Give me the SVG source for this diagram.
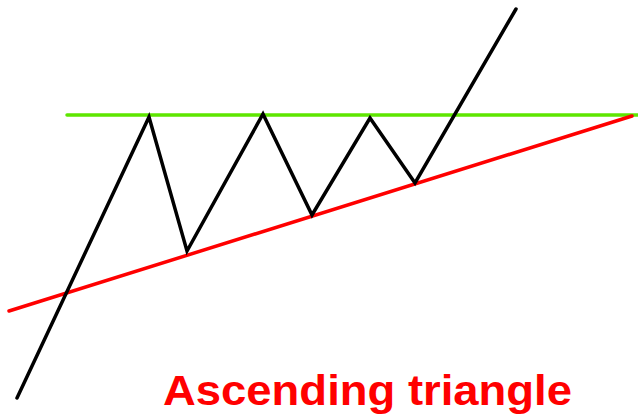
<svg xmlns="http://www.w3.org/2000/svg" width="638" height="418" viewBox="0 0 638 418">
<style>
.ln{fill:none;stroke-width:3.5;stroke-linecap:round;stroke-linejoin:miter}
.lbl{font-family:"Liberation Sans",Arial,sans-serif;font-weight:bold;font-size:43px;fill:#ff0000}
</style>
<rect width="638" height="418" fill="#ffffff"/>
<g id="connectors">
<line id="resistance" class="ln" x1="67" y1="115" x2="638" y2="115" stroke="#5ee600"/>
<line id="support" class="ln" x1="9" y1="311" x2="632" y2="116" stroke="#ff0000"/>
<polyline id="price" class="ln" points="17,398 149,117 187,251 263,114 312,215 370,118 415,183 516,9" stroke="#000000"/>
</g>
<g id="label">
<text class="lbl" x="163" y="405" textLength="409" lengthAdjust="spacingAndGlyphs">Ascending triangle</text>
</g>
</svg>
